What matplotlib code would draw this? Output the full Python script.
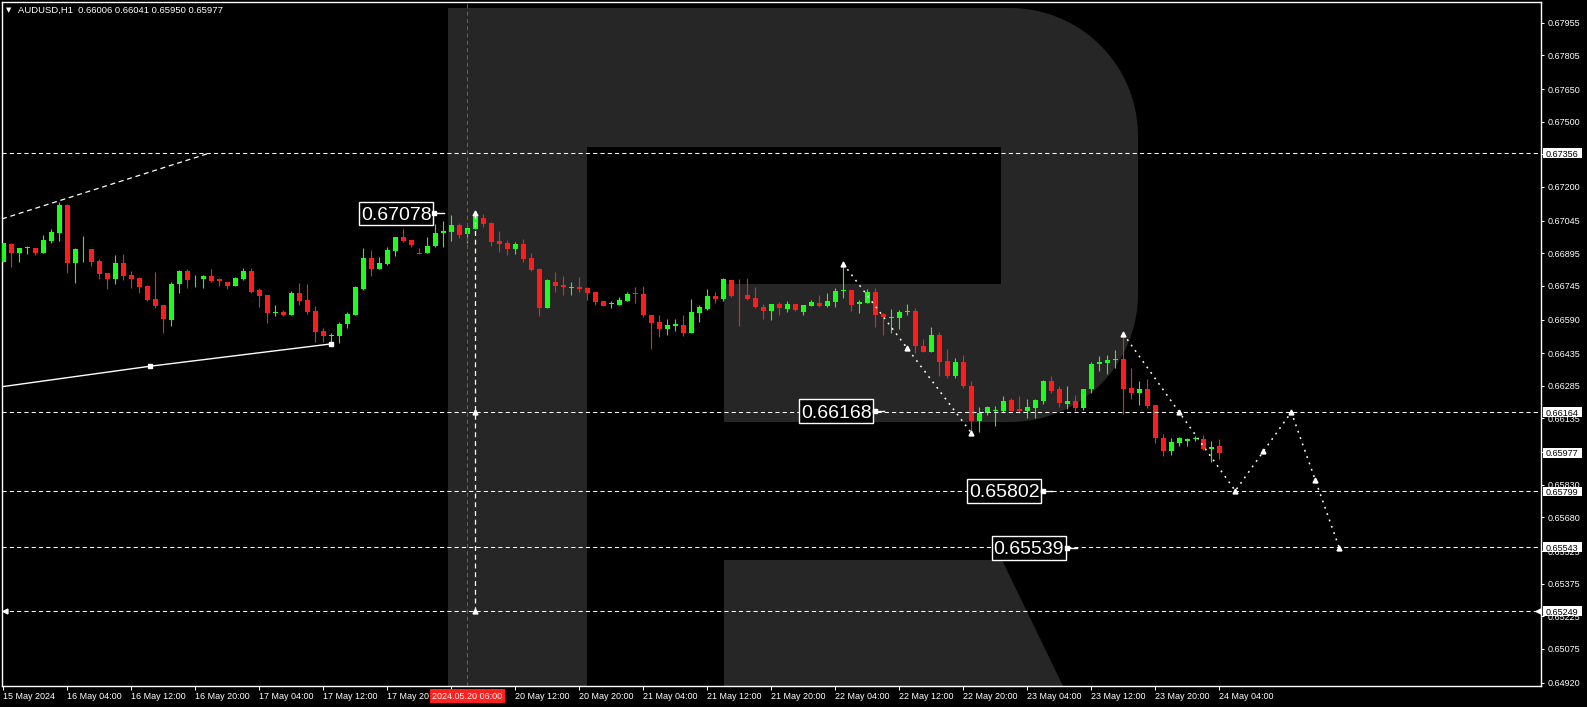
import numpy as np
import matplotlib
matplotlib.use("Agg")
import matplotlib.pyplot as plt
from matplotlib.patches import Polygon, Rectangle
from matplotlib import font_manager

# AUDUSD H1 candles, 15 May 20:00 .. 24 May 04:00
opens = [0.66856, 0.66938, 0.66895, 0.66918, 0.66918, 0.66898, 0.66951, 0.66990, 0.67117, 0.66852,
         0.66913, 0.66915, 0.66861, 0.66803, 0.66777, 0.66849, 0.66795, 0.66783, 0.66744, 0.66686,
         0.66657, 0.66588, 0.66754, 0.66815, 0.66775, 0.66775, 0.66790, 0.66775, 0.66762, 0.66744,
         0.66777, 0.66813, 0.66726, 0.66703, 0.66622, 0.66626, 0.66611, 0.66714, 0.66680, 0.66629,
         0.66537, 0.66514, 0.66515, 0.66568, 0.66611, 0.66731, 0.66872, 0.66823, 0.66846, 0.66907,
         0.66968, 0.66956, 0.66898, 0.66895, 0.66930, 0.66987, 0.66994, 0.67025, 0.66983, 0.67007,
         0.67056, 0.67036, 0.66951, 0.66944, 0.66915, 0.66938, 0.66875, 0.66823, 0.66642, 0.66764,
         0.66749, 0.66736, 0.66741, 0.66734, 0.66715, 0.66675, 0.66663, 0.66657, 0.66677, 0.66711,
         0.66708, 0.66611, 0.66577, 0.66547, 0.66560, 0.66565, 0.66530, 0.66622, 0.66639, 0.66698,
         0.66685, 0.66772, 0.66704, 0.66703, 0.66688, 0.66649, 0.66631, 0.66662, 0.66639, 0.66662,
         0.66626, 0.66654, 0.66667, 0.66652, 0.66669, 0.66721, 0.66726, 0.66660, 0.66667, 0.66718,
         0.66616, 0.66599, 0.66599, 0.66624, 0.66629, 0.66469, 0.66442, 0.66519, 0.66399, 0.66330,
         0.66393, 0.66285, 0.66123, 0.66159, 0.66170, 0.66170, 0.66220, 0.66179, 0.66167, 0.66184,
         0.66217, 0.66305, 0.66269, 0.66202, 0.66217, 0.66184, 0.66269, 0.66384, 0.66391, 0.66404,
         0.66409, 0.66274, 0.66254, 0.66271, 0.66197, 0.66047, 0.65985, 0.66024, 0.66033, 0.66042,
         0.66039, 0.65993, 0.66006]
highs = [0.66942, 0.66944, 0.66919, 0.66930, 0.66919, 0.66979, 0.67007, 0.67132, 0.67120, 0.66919,
         0.66974, 0.66915, 0.66867, 0.66804, 0.66887, 0.66892, 0.66815, 0.66786, 0.66749, 0.66810,
         0.66657, 0.66764, 0.66818, 0.66821, 0.66795, 0.66795, 0.66823, 0.66780, 0.66762, 0.66787,
         0.66826, 0.66826, 0.66734, 0.66703, 0.66657, 0.66634, 0.66721, 0.66760, 0.66754, 0.66652,
         0.66553, 0.66527, 0.66581, 0.66626, 0.66744, 0.66918, 0.66910, 0.66876, 0.66925, 0.66970,
         0.67005, 0.66956, 0.66918, 0.66968, 0.67030, 0.67045, 0.67071, 0.67033, 0.67017, 0.67078,
         0.67075, 0.67039, 0.66997, 0.66956, 0.66948, 0.66961, 0.66895, 0.66827, 0.66777, 0.66810,
         0.66790, 0.66764, 0.66784, 0.66741, 0.66717, 0.66675, 0.66675, 0.66692, 0.66715, 0.66741,
         0.66744, 0.66611, 0.66611, 0.66593, 0.66593, 0.66611, 0.66683, 0.66657, 0.66729, 0.66718,
         0.66783, 0.66772, 0.66775, 0.66783, 0.66741, 0.66660, 0.66662, 0.66672, 0.66675, 0.66662,
         0.66657, 0.66680, 0.66703, 0.66714, 0.66737, 0.66846, 0.66726, 0.66680, 0.66729, 0.66737,
         0.66619, 0.66639, 0.66634, 0.66660, 0.66644, 0.66499, 0.66554, 0.66534, 0.66455, 0.66413,
         0.66426, 0.66305, 0.66189, 0.66194, 0.66194, 0.66238, 0.66228, 0.66238, 0.66225, 0.66224,
         0.66310, 0.66328, 0.66284, 0.66284, 0.66243, 0.66271, 0.66393, 0.66423, 0.66427, 0.66451,
         0.66524, 0.66366, 0.66309, 0.66315, 0.66197, 0.66062, 0.66047, 0.66049, 0.66044, 0.66054,
         0.66059, 0.66031, 0.66041]
lows = [0.66855, 0.66833, 0.66856, 0.66892, 0.66888, 0.66898, 0.66941, 0.66951, 0.66806, 0.66760,
        0.66856, 0.66836, 0.66778, 0.66731, 0.66754, 0.66772, 0.66734, 0.66711, 0.66677, 0.66642,
        0.66530, 0.66562, 0.66714, 0.66737, 0.66741, 0.66734, 0.66764, 0.66744, 0.66731, 0.66744,
        0.66772, 0.66711, 0.66649, 0.66576, 0.66606, 0.66606, 0.66611, 0.66657, 0.66614, 0.66488,
        0.66488, 0.66481, 0.66481, 0.66553, 0.66611, 0.66726, 0.66790, 0.66823, 0.66841, 0.66882,
        0.66948, 0.66925, 0.66890, 0.66895, 0.66925, 0.66925, 0.66953, 0.66964, 0.66941, 0.67007,
        0.67017, 0.66930, 0.66902, 0.66887, 0.66892, 0.66856, 0.66813, 0.66606, 0.66642, 0.66718,
        0.66703, 0.66703, 0.66718, 0.66680, 0.66657, 0.66654, 0.66642, 0.66657, 0.66677, 0.66665,
        0.66600, 0.66455, 0.66508, 0.66519, 0.66539, 0.66515, 0.66530, 0.66580, 0.66634, 0.66668,
        0.66675, 0.66692, 0.66562, 0.66680, 0.66642, 0.66593, 0.66588, 0.66611, 0.66626, 0.66629,
        0.66611, 0.66654, 0.66649, 0.66649, 0.66646, 0.66688, 0.66630, 0.66619, 0.66667, 0.66556,
        0.66519, 0.66530, 0.66547, 0.66611, 0.66436, 0.66442, 0.66442, 0.66330, 0.66320, 0.66320,
        0.66275, 0.66069, 0.66073, 0.66150, 0.66101, 0.66165, 0.66170, 0.66160, 0.66138, 0.66138,
        0.66200, 0.66251, 0.66186, 0.66179, 0.66167, 0.66175, 0.66254, 0.66354, 0.66341, 0.66366,
        0.66156, 0.66223, 0.66197, 0.66182, 0.66024, 0.65964, 0.65967, 0.66010, 0.66008, 0.66031,
        0.65990, 0.65936, 0.65950]
closes = [0.66941, 0.66895, 0.66918, 0.66925, 0.66898, 0.66956, 0.66994, 0.67117, 0.66852, 0.66915,
          0.66915, 0.66856, 0.66800, 0.66777, 0.66849, 0.66792, 0.66777, 0.66741, 0.66680, 0.66652,
          0.66593, 0.66754, 0.66815, 0.66772, 0.66777, 0.66790, 0.66767, 0.66769, 0.66744, 0.66783,
          0.66813, 0.66718, 0.66698, 0.66622, 0.66624, 0.66611, 0.66711, 0.66677, 0.66626, 0.66534,
          0.66515, 0.66516, 0.66571, 0.66616, 0.66738, 0.66872, 0.66823, 0.66849, 0.66910, 0.66968,
          0.66951, 0.66933, 0.66890, 0.66930, 0.66990, 0.66997, 0.67025, 0.66979, 0.67010, 0.67060,
          0.67030, 0.66948, 0.66938, 0.66915, 0.66938, 0.66869, 0.66818, 0.66642, 0.66772, 0.66746,
          0.66738, 0.66738, 0.66731, 0.66714, 0.66672, 0.66654, 0.66665, 0.66680, 0.66708, 0.66706,
          0.66611, 0.66576, 0.66547, 0.66565, 0.66570, 0.66530, 0.66626, 0.66649, 0.66698, 0.66685,
          0.66777, 0.66700, 0.66702, 0.66685, 0.66646, 0.66631, 0.66662, 0.66642, 0.66662, 0.66634,
          0.66657, 0.66669, 0.66654, 0.66675, 0.66721, 0.66722, 0.66657, 0.66672, 0.66718, 0.66611,
          0.66600, 0.66601, 0.66626, 0.66631, 0.66466, 0.66442, 0.66519, 0.66396, 0.66330, 0.66393,
          0.66282, 0.66123, 0.66159, 0.66186, 0.66172, 0.66215, 0.66170, 0.66167, 0.66186, 0.66220,
          0.66305, 0.66263, 0.66205, 0.66217, 0.66184, 0.66271, 0.66386, 0.66396, 0.66405, 0.66406,
          0.66271, 0.66254, 0.66271, 0.66192, 0.66044, 0.65985, 0.66025, 0.66047, 0.66041, 0.66044,
          0.65996, 0.66005, 0.65977]

xtick_pos = list(range(0, 153, 8))
# the 20 May 04:00 label sits under the crosshair time label
xtick_labels = ["15 May 2024", "16 May 04:00", "16 May 12:00", "16 May 20:00", "17 May 04:00",
                "17 May 12:00", "17 May 20", "", "20 May 12:00", "20 May 20:00",
                "21 May 04:00", "21 May 12:00", "21 May 20:00", "22 May 04:00", "22 May 12:00",
                "22 May 20:00", "23 May 04:00", "23 May 12:00", "23 May 20:00", "24 May 04:00"]
ytick_vals = [0.67955, 0.67805, 0.67650, 0.67500, 0.67350, 0.67200, 0.67045, 0.66895, 0.66745,
              0.66590, 0.66435, 0.66285, 0.66135, 0.65980, 0.65830, 0.65680, 0.65525, 0.65375,
              0.65225, 0.65075, 0.64920]

levels = [0.67356, 0.66164, 0.65799, 0.65543, 0.65249]
axis_boxes = [0.67356, 0.66164, 0.65977, 0.65799, 0.65543, 0.65249]
big_texts = ["0.67078", "0.66168", "0.65802", "0.65539"]
big_x = [49.1, 104.1, 125.1, 128.2]
big_y = [0.67078, 0.66168, 0.65802, 0.65539]

trend_up_x = [-0.16, 25.8]
trend_up_y = [0.67053, 0.67356]
trend_low_x = [-0.16, 18.3, 41.0]
trend_low_y = [0.66281, 0.66375, 0.66478]
path_a_x = [105, 121]
path_a_y = [0.66846, 0.66069]
path_b_x = [140, 154, 161, 167]
path_b_y = [0.66524, 0.65802, 0.66164, 0.65539]
vmark_x = 59
vmark_y = [0.67078, 0.66164, 0.65249]
edge_marks_x = [0.2, 191.8]
cross_x = 58
cross_label = "2024.05.20 06:00"
header = "AUDUSD,H1  0.66006 0.66041 0.65950 0.65977"

names = {f.name for f in font_manager.fontManager.ttflist}
narrow = "Liberation Sans Narrow" in names
big_font = "Liberation Sans Narrow" if narrow else "Liberation Sans"
big_size = 17 if narrow else 14
plt.rcParams["font.family"] = ["Liberation Sans", "DejaVu Sans"]

W, H = 1587, 707
fig = plt.figure(figsize=(W / 100, H / 100), dpi=100, facecolor="black")

# background "R" watermark, pixel coordinates
bg = fig.add_axes([0, 0, 1, 1], zorder=0)
bg.set_xlim(0, W)
bg.set_ylim(H, 0)
bg.axis("off")
logo = "#262626"
t = np.linspace(-np.pi / 2, 0, 40)
arc1 = np.column_stack([1010 + 128 * np.cos(t), 136 + 128 * np.sin(t)])
t = np.linspace(0, np.pi / 2, 40)
arc2 = np.column_stack([1010 + 128 * np.cos(t), 294 + 128 * np.sin(t)])
bowl = np.vstack([[[448, 8]], arc1, arc2, [[448, 422]]])
bg.add_patch(Polygon(bowl, closed=True, fc=logo, ec="none"))
bg.add_patch(Rectangle((448, 8), 139, 678, fc=logo, ec="none"))
bg.add_patch(Rectangle((587, 147), 414, 137, fc="black", ec="none"))
bg.add_patch(Rectangle((587, 284), 137, 138, fc="black", ec="none"))
bg.add_patch(Polygon([[724, 560], [1002, 560], [1063, 686], [724, 686]], closed=True, fc=logo, ec="none"))

ax = fig.add_axes([2 / W, (H - 686) / H, 1539 / W, 684 / H], zorder=1)
ax.set_facecolor("none")
ax.set_xlim(-0.16, 192.21)
ax.set_ylim(0.64904, 0.68051)
for s in ax.spines.values():
    s.set_color("white")
    s.set_linewidth(1)

# candles
green, red = "#1cff1c", "#ff1c1c"
o = np.array(opens)
h = np.array(highs)
l = np.array(lows)
c = np.array(closes)
idx = np.arange(len(o))
cols = np.where(c > o, green, red)
ax.vlines(idx, l, h, colors=cols, lw=0.8, zorder=3)
ax.bar(idx, np.maximum(np.abs(c - o), 0.00003), bottom=np.minimum(o, c), width=0.62,
       color=cols, lw=0, zorder=3)

dash = (0, (4, 3))
for p in levels:
    ax.axhline(p, color="white", lw=0.75, ls=dash, zorder=5)
ax.axvline(cross_x, color="#d0302f", lw=0.75, ls=dash, zorder=5)

ax.plot(trend_up_x, trend_up_y, color="white", lw=0.9, ls=dash, zorder=5)
ax.plot(trend_low_x, trend_low_y, color="white", lw=1, zorder=5)
ax.plot(trend_low_x[1:], trend_low_y[1:], ls="none", marker="s", ms=3, color="white", zorder=5)

ax.plot([vmark_x, vmark_x], [vmark_y[0], vmark_y[-1]], color="white", lw=0.9, ls=dash, zorder=5)
ax.plot([vmark_x] * len(vmark_y), vmark_y, ls="none", marker="^", ms=3.5, color="white", zorder=6)
ax.plot(edge_marks_x, [levels[-1]] * 2, ls="none", marker="<", ms=3.5, color="white", zorder=6)

dots = (0, (1.2, 3.2))
for px, py in ((path_a_x, path_a_y), (path_b_x, path_b_y)):
    px = np.array(px, dtype=float)
    py = np.array(py)
    ax.plot(px, py, color="white", lw=1.1, ls=dots, zorder=5)
    ax.plot(px, py, ls="none", marker="^", ms=3.5, color="white", zorder=6)
    ax.plot((px[:-1] + px[1:]) / 2, (py[:-1] + py[1:]) / 2, ls="none", marker="^", ms=3.5,
            color="white", zorder=6)

# big price labels
for txt, bx, by in zip(big_texts, big_x, big_y):
    ax.add_patch(Rectangle((bx - 4.62, by - 0.00055), 9.25, 0.0011, fc="black", ec="white",
                           lw=1, zorder=7))
    ax.plot([bx + 4.62, bx + 6.0], [by, by], color="white", lw=1, zorder=7)
    ax.plot([bx + 4.8], [by], ls="none", marker="s", ms=2.2, color="white", zorder=7)
    ax.text(bx, by, txt, ha="center", va="center_baseline", color="white", fontsize=big_size,
            family=big_font, zorder=8)

# axes ticks
ax.yaxis.tick_right()
ax.set_yticks(ytick_vals)
ax.set_yticklabels([f"{v:.5f}" for v in ytick_vals])
ax.tick_params(axis="y", direction="out", length=2.5, width=0.75, colors="white",
               labelsize=6.5, pad=2)
ax.set_xticks(xtick_pos)
ax.set_xticklabels(xtick_labels, ha="left")
ax.tick_params(axis="x", direction="out", length=3, width=0.75, colors="white",
               labelsize=6.5, pad=1.5)

ytr = ax.get_yaxis_transform()
for p in axis_boxes:
    ax.add_patch(Rectangle((1.0013, p - 0.00022), 0.0254, 0.00044, transform=ytr, fc="white",
                           ec="none", clip_on=False, zorder=8))
    ax.text(1.0030, p, f"{p:.5f}", transform=ytr, ha="left", va="center_baseline",
            color="black", fontsize=6.5, clip_on=False, zorder=9)

xtr = ax.get_xaxis_transform()
ax.add_patch(Rectangle((cross_x - 4.7, -0.0249), 9.4, 0.0205, transform=xtr, fc="#ff2020",
                       ec="none", clip_on=False, zorder=8))
ax.text(cross_x, -0.0146, cross_label, transform=xtr, ha="center", va="center_baseline",
        color="white", fontsize=6.5, clip_on=False, zorder=9)

fig.text(6 / W, 1 - 10 / H, "\u25bc", color="white", fontsize=5, va="center",
         family=["DejaVu Sans"])
fig.text(18 / W, 1 - 10 / H, header, color="white", fontsize=6.8, va="center")

fig.savefig("out.png", dpi=100, facecolor="black")
